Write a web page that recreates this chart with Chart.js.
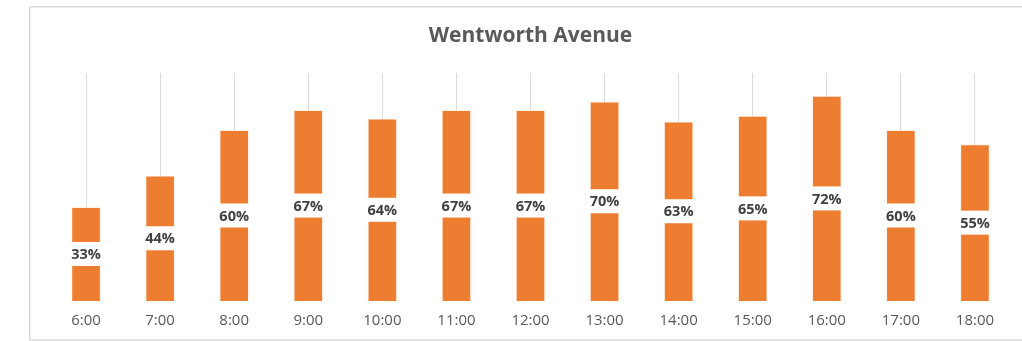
<!DOCTYPE html>
<html>
<head>
<meta charset="utf-8">
<title>Wentworth Avenue</title>
<script src="https://cdn.jsdelivr.net/npm/chart.js@4/dist/chart.umd.min.js"></script>
<style>
  html, body { margin: 0; padding: 0; background: #ffffff; }
  #wrap { width: 1022px; height: 341px; }
</style>
</head>
<body>
<div id="wrap"><canvas id="chart" width="1022" height="341"></canvas></div>
<script>
// Hourly occupancy, Wentworth Avenue
const hours = ['6:00', '7:00', '8:00', '9:00', '10:00', '11:00', '12:00',
               '13:00', '14:00', '15:00', '16:00', '17:00', '18:00'];
const occupancy = [33, 44, 60, 67, 64, 67, 67, 70, 63, 65, 72, 60, 55];
const chartTitle = 'Wentworth Avenue';

const FONT = '"Open Sans", "Liberation Sans", sans-serif';

// Outer frame of the chart object
const framePlugin = {
  id: 'frame',
  beforeDraw(chart) {
    const ctx = chart.ctx;
    ctx.save();
    ctx.strokeStyle = '#d9d9d9';
    ctx.lineWidth = 1.5;
    ctx.beginPath();
    ctx.moveTo(1030, 6.75);
    ctx.lineTo(29.75, 6.75);
    ctx.lineTo(29.75, 340);
    ctx.lineTo(1030, 340);
    ctx.stroke();
    ctx.restore();
  }
};

// Title centred over the plot area
const titlePlugin = {
  id: 'titleText',
  afterDraw(chart) {
    const ctx = chart.ctx;
    const area = chart.chartArea;
    ctx.save();
    ctx.font = 'bold 21px ' + FONT;
    ctx.fillStyle = '#595959';
    ctx.textAlign = 'center';
    ctx.textBaseline = 'middle';
    ctx.fillText(chartTitle, (area.left + area.right) / 2, 36);
    ctx.restore();
  }
};

// Percentage labels centred in each bar on a white box
const valueLabelPlugin = {
  id: 'valueLabels',
  afterDatasetsDraw(chart) {
    const ctx = chart.ctx;
    const meta = chart.getDatasetMeta(0);
    const values = chart.data.datasets[0].data;
    ctx.save();
    ctx.font = 'bold 14.5px ' + FONT;
    ctx.textAlign = 'center';
    ctx.textBaseline = 'middle';
    meta.data.forEach((bar, i) => {
      const text = values[i] + '%';
      const cy = (bar.y + bar.base) / 2;
      const w = Math.max(ctx.measureText(text).width + 8, bar.width + 2);
      const h = 24;
      ctx.fillStyle = '#ffffff';
      ctx.fillRect(bar.x - w / 2, cy - h / 2, w, h);
      ctx.fillStyle = '#404040';
      ctx.fillText(text, bar.x, cy + 1);
    });
    ctx.restore();
  }
};

new Chart(document.getElementById('chart'), {
  type: 'bar',
  data: {
    labels: hours,
    datasets: [{
      data: occupancy,
      backgroundColor: '#ED7D31',
      borderColor: 'rgba(255,230,210,0.55)',
      borderWidth: 1,
      barPercentage: 0.8,
      categoryPercentage: 0.5
    }]
  },
  options: {
    responsive: false,
    animation: false,
    events: [],
    layout: { padding: { left: 49, right: 10, top: 73, bottom: 0 } },
    plugins: {
      legend: { display: false },
      title: { display: false },
      tooltip: { enabled: false }
    },
    scales: {
      x: {
        grid: { display: true, offset: false, color: '#d9d9d9', lineWidth: 1, drawTicks: false },
        border: { display: false },
        ticks: { color: '#595959', font: { family: FONT, size: 15 }, padding: 11 }
      },
      y: {
        display: false,
        min: 0,
        max: 80,
        grid: { display: false }
      }
    }
  },
  plugins: [framePlugin, titlePlugin, valueLabelPlugin]
});
</script>
</body>
</html>
